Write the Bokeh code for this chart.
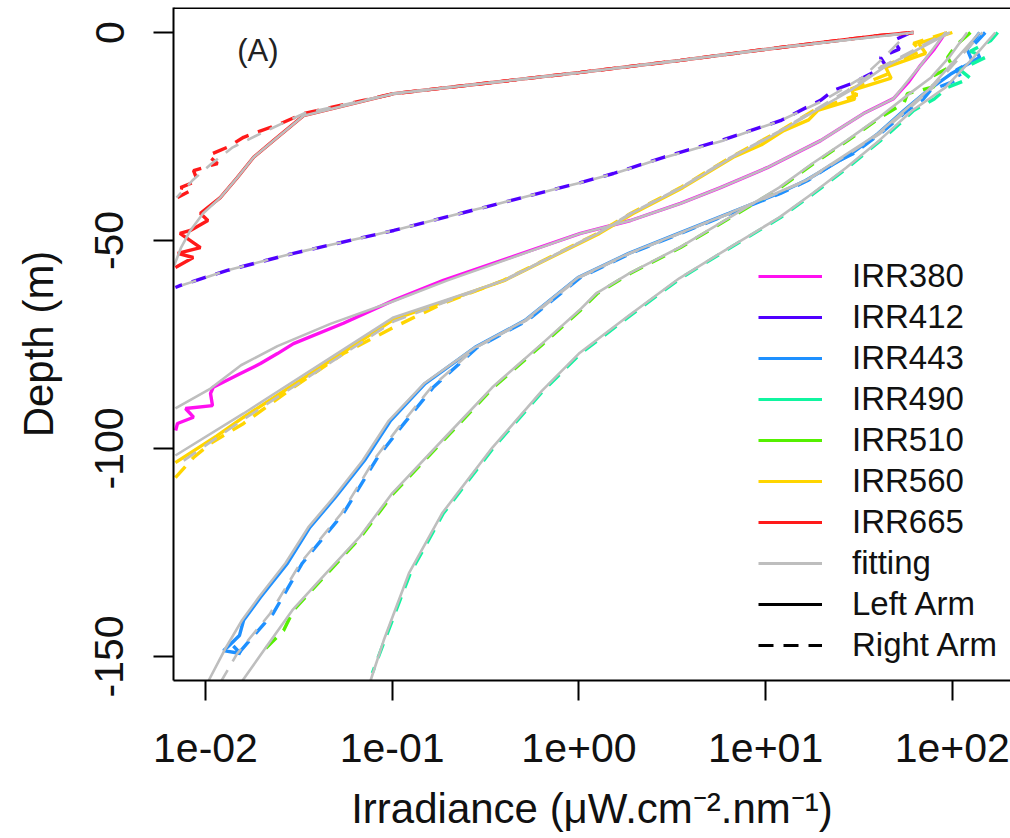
from bokeh.plotting import figure
from bokeh.models import Range1d, FixedTicker, Legend, LegendItem, Span, Label
from bokeh.embed import file_html
from bokeh.resources import INLINE

FONT = "Liberation Sans"
NAN = float("nan")

x_ticks = [0.01, 0.1, 1, 10, 100]
x_tick_labels = ["1e-02", "1e-01", "1e+00", "1e+01", "1e+02"]
y_ticks = [-150, -100, -50, 0]
y_tick_labels = ["-150", "-100", "-50", "0"]

legend_labels = ["IRR380", "IRR412", "IRR443", "IRR490", "IRR510", "IRR560", "IRR665",
                 "fitting", "Left Arm", "Right Arm"]
colors = {"IRR380": "#FF10F0", "IRR412": "#5000FF", "IRR443": "#1E90FF", "IRR490": "#10F5A0",
          "IRR510": "#55F000", "IRR560": "#FFD500", "IRR665": "#FF1A1A"}
fit_color = "#BEBEBE"

# ---- measured profiles (depth m, irradiance uW cm-2 nm-1) ----
d380L = [0, -4, -7.9, -12, -15.9, -19.5, -26.0, -32.5, -37.3, -41.1, -45.2, -48.3, -59.6, -64.4,
         -69.9, -74.8, -77.2, -79.6, -82.0, -85.3, -86.8, -89.7, -90.4, -92.5, -94.0, -95.7]
e380L = [92, 80, 67.6, 58, 48.4, 33.4, 19.7, 10.2, 5.73, 3.50, 1.89, 1.02, 0.188, 0.1016,
         0.0548, 0.0296, 0.0243, 0.0197, 0.0154, 0.0110, 0.01064, 0.0109, 0.00782, 0.00863, 0.00708, 0.00692]
fd380L = [0, -7.9, -15.9, -19.5, -26.0, -32.5, -37.3, -41.1, -45.2, -48.3, -59.6, -64.6, -70.0,
          -75.4, -80.0, -85.6, -90.4]
fe380L = [92, 67.6, 48.4, 33.4, 19.7, 10.2, 5.73, 3.50, 1.89, 1.02, 0.198, 0.1016, 0.047,
          0.0243, 0.0155, 0.01064, 0.0069]

d412R = [0, -1.9, -4, -6.0, -8, -10.8, -12, -13.9, -16.3, -21.2, -26.0, -30.0, -33.9, -36.1,
         -47.6, -53.1, -57.2, -60.8, -61.3]
e412R = [60, 48.4, 52, 41.2, 44, 33.4, 30, 23.1, 19.7, 12.0, 5.73, 2.84, 1.53, 1.02,
         0.102, 0.0296, 0.0131, 0.00735, 0.0069]
fd412R = [0, -6, -10.8, -16.3, -21.2, -26, -30, -33.9, -36.1, -47.6, -53.1, -57.2, -61.3]
fe412R = [58, 43, 33, 20.5, 12.0, 5.9, 2.9, 1.55, 1.02, 0.102, 0.0296, 0.0131, 0.0069]

d443R = [0, -3, -6, -9, -11, -13.9, -16, -18.75, -24.3, -29.1, -31.5, -35.6, -38.7, -43.5, -48.3,
         -53.1, -58.9, -69.2, -75.7, -85.3, -95.0, -102.2, -115.6, -127.6, -139.7, -149.3]
e443R = [150, 130, 140, 105, 112, 76.4, 70, 57.5, 41.2, 29.6, 23.1, 16.8, 12.0, 6.49, 3.50,
         1.89, 1.02, 0.531, 0.286, 0.166, 0.111, 0.0834, 0.0548, 0.0330, 0.0230, 0.0150]
fd443R = [0, -13.9, -24.3, -35.6, -43.5, -53.1, -58.9, -69.2, -75.7, -85.3, -95.0, -102.2,
          -115.6, -127.6, -139.7, -149.3, -155.8]
fe443R = [145, 76, 41, 16.6, 6.45, 1.88, 1.01, 0.525, 0.282, 0.162, 0.108, 0.0815, 0.0535,
          0.0322, 0.0222, 0.0148, 0.0122]
d443L = [0, -4, -7, -10, -13.9, -18.75, -24.3, -29.1, -35.6, -38.7, -43.5, -48.3, -53.1, -58.9,
         -69.2, -75.7, -84.4, -93.3, -102.9, -111.8, -119.0, -127.6, -135.8, -141.3, -145, -147.8,
         -148.6, -149.3, -147.5]
e443L = [140, 120, 128, 98, 74, 55, 40, 28.8, 16.4, 11.7, 6.35, 3.42, 1.85, 0.99,
         0.515, 0.278, 0.150, 0.098, 0.071, 0.0495, 0.0362, 0.0275, 0.0197, 0.0160, 0.0152, 0.0131,
         0.0125, 0.0154, 0.0141]
fd443L = [0, -13.9, -24.3, -35.6, -43.5, -53.1, -58.9, -69.2, -75.7, -84.4, -93.3, -102.9,
          -111.8, -119.0, -127.6, -135.8, -141.3, -147.8, -155.8]
fe443L = [140, 74, 40, 16.4, 6.35, 1.85, 0.99, 0.515, 0.278, 0.148, 0.096, 0.0695, 0.0485,
          0.0355, 0.0268, 0.0193, 0.0157, 0.0129, 0.0104]

d490R = [0, -2, -4.5, -6, -9, -11, -13.2, -16, -18.75, -22, -26.0, -32.5, -38.7, -44.5, -51.7,
         -59.1, -68.0, -77.2, -86.1, -99.8, -115.6, -130.0, -146.2, -154]
e490R = [175, 160, 125, 150, 110, 125, 94.3, 80, 62, 52, 41.2, 27.5, 18.1, 12.0, 6.49,
         3.50, 1.89, 1.02, 0.645, 0.349, 0.188, 0.125, 0.091, 0.0783]
fd490 = [0, -6, -13.2, -18.75, -26.0, -32.5, -38.7, -44.5, -51.7, -59.1, -68.0, -77.2, -86.1,
         -99.8, -115.6, -130.0, -146.2, -155.8]
fe490 = [170, 130, 92, 61, 40.5, 27.0, 17.8, 11.8, 6.40, 3.45, 1.86, 1.00, 0.635, 0.344,
         0.185, 0.123, 0.090, 0.0766]

d510R = [0, -3, -6.0, -8, -10.8, -13, -14.7, -17, -20.4, -26.0, -31.5, -37.3, -44.5, -51.7,
         -57.9, -62.7, -66.8, -74.8, -85.3, -98.1, -110.8, -121.4, -130.0, -138.9, -143.8,
         -146.9, -148.6]
e510R = [125, 105, 94.3, 100, 76.4, 80, 57.5, 55, 41.2, 27.5, 18.1, 12.0, 6.49, 3.50,
         1.89, 1.258, 1.02, 0.645, 0.349, 0.188, 0.1016, 0.0676, 0.0450, 0.0296, 0.0262,
         0.0223, 0.0205]
fd510 = [0, -6, -10.8, -14.7, -20.4, -26, -31.5, -37.3, -44.5, -51.7, -57.9, -62.7, -66.8,
         -74.8, -85.3, -98.1, -110.8, -121.4, -130, -138.9, -146.9, -155.8]
fe510 = [120, 96, 77, 59, 40.6, 27.1, 17.8, 11.8, 6.40, 3.45, 1.86, 1.24, 1.005, 0.635,
         0.344, 0.185, 0.100, 0.0666, 0.0443, 0.0292, 0.0218, 0.0158]

d560L = [0, -2.6, -5, -8.4, -11, -13.9, -16, -18.75, -21, -23.6, -27, -30, -37.3, -43.5,
         -48.3, -59.6, -69, -82, -92.5, -97, -103.4]
e560L = [100, 66, 72, 44, 47, 29, 30, 19, 17, 12.5, 9.5, 6.7, 3.6, 1.95,
         1.29, 0.40, 0.1016, 0.0365, 0.0160, 0.0115, 0.0069]
fd560L = [0, -8.4, -13.9, -18.75, -23.6, -30, -37.3, -43.5, -48.3, -59.6, -68.5, -81.3,
          -91.6, -101.7]
fe560L = [97, 43, 28.5, 18.6, 12.2, 6.6, 3.55, 1.92, 1.27, 0.40, 0.1016, 0.0365, 0.0160, 0.0069]
d560R = [0, -2.6, -4.5, -8.4, -10, -13.9, -15, -18.75, -23.6, -30, -37.3, -43.5, -48.3, -59.6,
         -65.1, -70.9, -77.2, -85.3, -94.0, -98.8, -102.2, -107.0]
e560R = [94, 62, 68, 41.2, 45, 27.5, 31, 18.1, 12.0, 6.49, 3.50, 1.89, 1.258, 0.394,
         0.188, 0.1016, 0.0548, 0.0296, 0.0160, 0.01064, 0.00863, 0.0069]
fd560R = [0, -8.4, -13.9, -18.75, -23.6, -30, -37.3, -43.5, -48.3, -59.6, -69.5, -82.5,
          -93.0, -104.3]
fe560R = [94, 41.2, 27.5, 18.1, 12.0, 6.49, 3.50, 1.89, 1.258, 0.394, 0.1016, 0.0365,
          0.0160, 0.0069]

d665R = [0, -0.7, -3.6, -6.7, -9.6, -14.7, -19.5, -21.9, -25.2, -27.6, -29.6, -31.5, -33.2,
         -35.6, -37.3, -38.0, -39.7]
e665R = [62, 41, 12.0, 3.50, 1.02, 0.102, 0.0335, 0.0252, 0.0160, 0.0131, 0.0103, 0.0116,
         0.00863, 0.00906, 0.00735, 0.00832, 0.00708]
fd665R = [0, -3.6, -6.7, -9.6, -14.7, -19.5, -24.3, -27.6, -31.5, -35.6, -39.7]
fe665R = [62, 12.0, 3.50, 1.02, 0.102, 0.0335, 0.0197, 0.0140, 0.0108, 0.0085, 0.0070]
d665L = [0, -0.7, -3.6, -6.7, -9.6, -14.7, -20.0, -26.0, -30.0, -34.9, -39.7, -43.5, -45.2,
         -47.6, -48.3, -51.7, -53.1, -54.1, -56.5]
e665L = [62, 41, 12.0, 3.50, 1.02, 0.102, 0.0335, 0.0231, 0.0181, 0.0148, 0.0120, 0.0094,
         0.0103, 0.0083, 0.0073, 0.0094, 0.0071, 0.0086, 0.0069]
fd665L = [0, -3.6, -6.7, -9.6, -14.7, -20.0, -26.0, -30.0, -34.9, -39.7, -43.5, -47.6, -51.7, -56.0]
fe665L = [62, 12.0, 3.50, 1.02, 0.102, 0.0335, 0.0231, 0.0181, 0.0148, 0.0120, 0.0097, 0.0083,
          0.0074, 0.0068]

# (name, arm, depth, irradiance)
measured = [
    ("IRR380", "L", d380L, e380L), ("IRR412", "R", d412R, e412R),
    ("IRR443", "L", d443L, e443L), ("IRR443", "R", d443R, e443R),
    ("IRR490", "R", d490R, e490R), ("IRR510", "R", d510R, e510R),
    ("IRR560", "L", d560L, e560L), ("IRR560", "R", d560R, e560R),
    ("IRR665", "L", d665L, e665L), ("IRR665", "R", d665R, e665R),
]
fits = [
    ("R", fd412R, fe412R), ("R", fd443R, fe443R), ("R", fd560R, fe560R), ("R", fd665R, fe665R),
    ("L", fd380L, fe380L), ("L", fd443L, fe443L), ("L", fd490, fe490), ("L", fd510, fe510),
    ("L", fd560L, fe560L), ("L", fd665L, fe665L),
]

DASH = "15 10"
Y_TOP = 6.01

p = figure(width=1010, height=838, x_axis_type="log",
           x_range=Range1d(0.006741, 204.9), y_range=Range1d(-155.8, Y_TOP),
           output_backend="svg", toolbar_location=None,
           min_border_left=173, min_border_right=0, min_border_top=7, min_border_bottom=158)
p.background_fill_color = "white"
p.border_fill_color = "white"
p.outline_line_color = None
p.grid.visible = False

for name, arm, d, e in measured:
    p.line(e, d, line_color=colors[name], line_width=3.4,
           line_dash=(DASH if arm == "R" else "solid"))
for arm, d, e in fits:
    if arm == "R":
        p.line(e, d, line_color=fit_color, line_width=2.6, line_dash=DASH, line_dash_offset=12)
for arm, d, e in fits:
    if arm == "L":
        p.line(e, d, line_color=fit_color, line_width=2.6)

# top edge of the box
p.add_layout(Span(location=Y_TOP - 0.12, dimension="width", line_color="black", line_width=2))

p.add_layout(Label(x=0.0148, y=-4.3, text="(A)", text_font=FONT, text_font_size="31px",
                   text_baseline="middle", text_align="left", text_color="#222222"))

for ax in (p.xaxis[0], p.yaxis[0]):
    ax.axis_line_width = 2
    ax.axis_line_color = "black"
    ax.major_tick_line_width = 2
    ax.major_tick_out = 20
    ax.major_tick_in = 0
    ax.minor_tick_line_color = None
    ax.major_label_text_font = FONT
    ax.major_label_text_font_size = "41px"
    ax.major_label_text_color = "#111111"
    ax.axis_label_text_font = FONT
    ax.axis_label_text_font_size = "42px"
    ax.axis_label_text_font_style = "normal"
    ax.axis_label_text_color = "#111111"

p.xaxis.ticker = FixedTicker(ticks=x_ticks)
p.xaxis.major_label_overrides = dict(zip(x_ticks, x_tick_labels))
p.xaxis.major_label_standoff = 33
p.xaxis.axis_label = "Irradiance (\u03bcW.cm\u207b\u00b2.nm\u207b\u00b9)"
p.xaxis.axis_label_standoff = 20

p.yaxis.ticker = FixedTicker(ticks=y_ticks)
p.yaxis.major_label_overrides = dict(zip(y_ticks, y_tick_labels))
p.yaxis.major_label_orientation = "vertical"
p.yaxis.major_label_standoff = 30
p.yaxis.axis_label = "Depth (m)"
p.yaxis.axis_label_standoff = 31

# legend (sample glyphs only; no data drawn)
items = []
for lab in legend_labels:
    if lab in colors:
        r = p.line([NAN, NAN], [NAN, NAN], line_color=colors[lab], line_width=3)
    elif lab == "fitting":
        r = p.line([NAN, NAN], [NAN, NAN], line_color=fit_color, line_width=3)
    elif lab == "Left Arm":
        r = p.line([NAN, NAN], [NAN, NAN], line_color="black", line_width=3)
    else:
        r = p.line([NAN, NAN], [NAN, NAN], line_color="black", line_width=3, line_dash=DASH)
    items.append(LegendItem(label=lab, renderers=[r]))

legend = Legend(items=items, location=(585, 16), orientation="vertical",
                glyph_width=64, glyph_height=20, label_standoff=30, spacing=3,
                padding=0, margin=0, border_line_color=None, background_fill_alpha=0,
                label_text_font=FONT, label_text_font_size="33px", label_text_color="#111111",
                label_height=20)
p.add_layout(legend, "center")

open("out.html", "w").write(file_html(p, INLINE))
